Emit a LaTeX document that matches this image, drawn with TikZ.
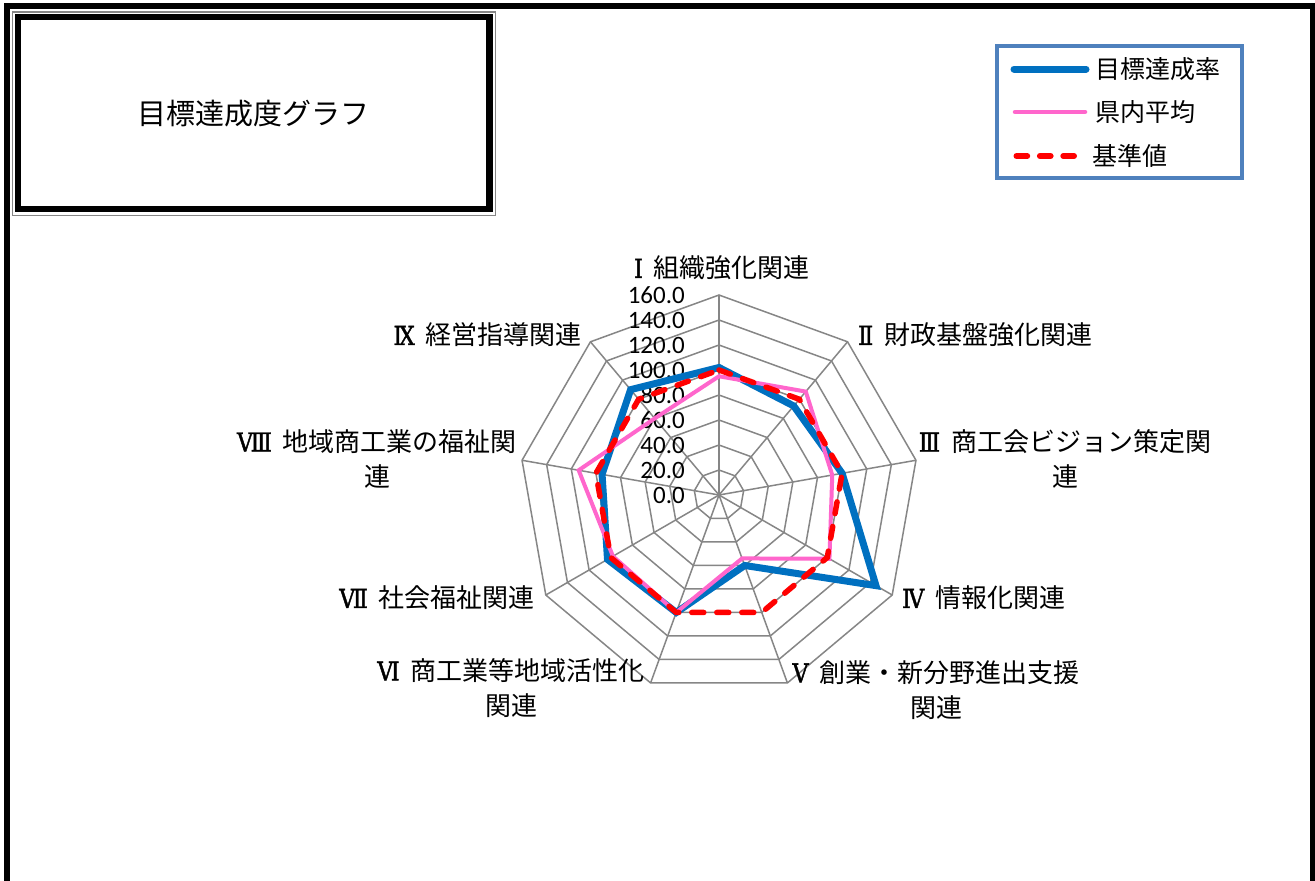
\documentclass[tikz,border=0pt]{standalone}
\usepackage{fontspec}
\newfontfamily\jp{Noto Sans CJK JP}
\newfontfamily\numf{Carlito}
\newfontfamily\romf{DejaVu Serif}[FakeStretch=0.85, FakeBold=1.5]
\newcommand\romnum[1]{{\romf #1}\hspace{11pt}}
\definecolor{gridgray}{RGB}{134,134,134}
\definecolor{serblue}{RGB}{0,112,192}
\definecolor{serpink}{RGB}{255,102,204}
\definecolor{legblue}{RGB}{79,129,189}
\tikzset{
  axlabel/.style={font=\jp\fontsize{26}{35}\selectfont, inner sep=0pt, align=center},
  leglabel/.style={font=\jp\fontsize{25}{25}\selectfont, inner sep=0pt, anchor=west},
  ticklabel/.style={font=\numf\fontsize{25}{25}\selectfont, inner sep=0pt, anchor=east},
  gridline/.style={draw=gridgray, line width=1.5pt},
  blueser/.style={draw=serblue, line width=7pt},
  pinkser/.style={draw=serpink, line width=4pt},
  redser/.style={draw=red, line width=5.5pt, line cap=round, dash pattern=on 12pt off 13pt},
}
\begin{document}
\begin{tikzpicture}[x=1pt,y=-1pt]
\useasboundingbox (0,0) rectangle (1315,881);
\fill[white] (0,0) rectangle (1315,881);
% outer frame
\draw[line width=6pt] (7,900) -- (7,5.5) -- (1313,5.5) -- (1313,900);
% title box
\draw[gridgray, line width=1.5pt] (12.5,12) rectangle (495.5,215.5);
\draw[line width=6.5pt] (18,17) rectangle (489.5,209);
\node[font=\jp\fontsize{29}{29}\selectfont, inner sep=0pt] (title) at (253.75,114) {目標達成度グラフ};
% legend
\draw[legblue, line width=4pt] (996.5,46) rectangle (1241.5,178);
\coordinate (lb1) at (1014,69); \coordinate (lb2) at (1086,69);
\coordinate (lp1) at (1015,112); \coordinate (lp2) at (1085,112);
\coordinate (lr1) at (1016.5,156); \coordinate (lr2) at (1074,156);
\draw[blueser, line cap=round] (lb1) -- (lb2);
\draw[pinkser, line width=4.5pt, line cap=round] (lp1) -- (lp2);
\draw[redser, line width=6pt, dash pattern=on 10.7pt off 12.7pt] (lr1) -- (lr2);
\node[leglabel] (leg1) at (1095,69) {目標達成率};
\node[leglabel] (leg2) at (1095,112) {県内平均};
\node[leglabel] (leg3) at (1092,156) {基準値};
% radar chart
\begin{scope}[shift={(719pt,-495pt)}, y=1pt]
  \foreach \r in {25,50,...,200}
    \draw[gridline] (90:\r) \foreach \k in {1,...,8} {-- ({90-40*\k}:\r)} -- cycle;
  \foreach \k in {0,...,8}
    \draw[gridline] (0,0) -- ({90-40*\k}:200);
  \foreach \i [evaluate=\i as \val using int(20*\i)] in {0,...,8}
    \node[ticklabel] (t\i) at (-34,25*\i) {\val.0};
  % series
  \draw[blueser] (90:127.5) -- (50:116.25) -- (10:125) -- (-30:181.25) -- (-70:75)
     -- (-110:125) -- (-150:128.75) -- (170:118.75) -- (130:137.5) -- cycle;
  \draw[pinkser] (90:118.75) -- (50:135) -- (10:115) -- (-30:127.5) -- (-70:67.5)
     -- (-110:125) -- (-150:122.5) -- (170:142.5) -- (130:100) -- cycle;
  \draw[redser] (90:125) -- (50:125) -- (10:125) -- (-30:125) -- (-70:125)
     -- (-110:125) -- (-150:125) -- (170:125) -- (130:125) -- cycle;
\end{scope}
% axis labels
\node[axlabel] (l1) at (722,268) {\romnum{Ⅰ}組織強化関連};
\node[axlabel, anchor=west] (l2) at (858,335) {\romnum{Ⅱ}財政基盤強化関連};
\node[axlabel] (l3) at (1065,459) {\romnum{Ⅲ}商工会ビジョン策定関\\連};
\node[axlabel, anchor=west] (l4) at (902,598) {\romnum{Ⅳ}情報化関連};
\node[axlabel] (l5) at (936,690) {\romnum{Ⅴ}創業・新分野進出支援\\関連};
\node[axlabel] (l6) at (511,688) {\romnum{Ⅵ}商工業等地域活性化\\関連};
\node[axlabel, anchor=east] (l7) at (535,598) {\romnum{Ⅶ}社会福祉関連};
\node[axlabel] (l8) at (377,459) {\romnum{Ⅷ}地域商工業の福祉関\\連};
\node[axlabel, anchor=east] (l9) at (582,335) {\romnum{Ⅸ}経営指導関連};
\end{tikzpicture}
\end{document}
